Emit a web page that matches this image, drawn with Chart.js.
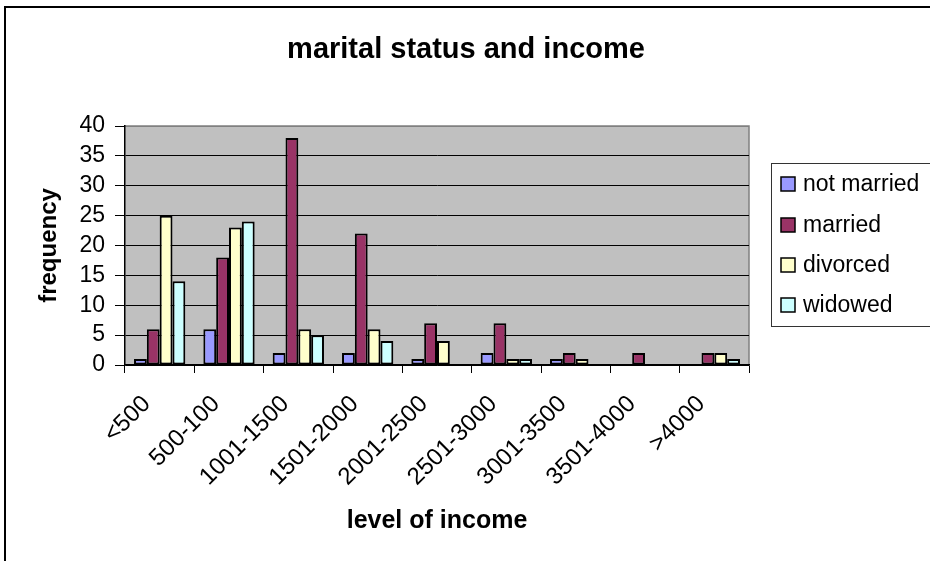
<!DOCTYPE html>
<html>
<head>
<meta charset="utf-8">
<script src="https://cdn.jsdelivr.net/npm/chart.js@4.4.1/dist/chart.umd.min.js"></script>
<style>
  body { margin: 0; background: #fff; }
  #wrap { width: 930px; height: 561px; }
</style>
</head>
<body>
<div id="wrap"><canvas id="incomeChart" width="930" height="561"></canvas></div>
<script>
const categories = ["<500", "500-100", "1001-1500", "1501-2000", "2001-2500", "2501-3000", "3001-3500", "3501-4000", ">4000"];
const notMarried = [1, 6, 2, 2, 1, 2, 1, 0, 0];
const married = [6, 18, 38, 22, 7, 7, 2, 2, 2];
const divorced = [25, 23, 6, 6, 4, 1, 1, 0, 2];
const widowed = [14, 24, 5, 4, 0, 1, 0, 0, 1];
const seriesNames = ["not married", "married", "divorced", "widowed"];
const seriesColors = ["#9999ff", "#993366", "#ffffcc", "#ccffff"];
const yTicks = [0, 5, 10, 15, 20, 25, 30, 35, 40];

const FONT = '"Liberation Sans", Arial, sans-serif';
Chart.defaults.font.family = FONT;
Chart.defaults.color = "#000";

// background, frame, title and legend box drawn around the chart
const decor = {
  id: "decor",
  beforeDraw(chart) {
    const { ctx, chartArea: a } = chart;
    ctx.save();
    ctx.fillStyle = "#fff";
    ctx.fillRect(0, 0, chart.width, chart.height);
    ctx.strokeStyle = "#000";
    ctx.lineWidth = 2;
    ctx.strokeRect(5, 7, 1000, 1000);
    ctx.fillStyle = "#c0c0c0";
    ctx.fillRect(a.left, a.top, a.right - a.left, a.bottom - a.top);
    ctx.strokeStyle = "#808080";
    ctx.lineWidth = 1.5;
    ctx.beginPath();
    ctx.moveTo(a.left, a.top);
    ctx.lineTo(a.right, a.top);
    ctx.lineTo(a.right, a.bottom);
    ctx.stroke();
    ctx.restore();
  },
  afterDraw(chart) {
    const ctx = chart.ctx;
    ctx.save();
    ctx.fillStyle = "#000";
    ctx.font = "bold 29px " + FONT;
    ctx.textAlign = "center";
    ctx.textBaseline = "alphabetic";
    ctx.fillText("marital status and income", 466, 58);

    ctx.strokeStyle = "#333";
    ctx.lineWidth = 1;
    ctx.strokeRect(771.5, 163.5, 200, 163);
    ctx.font = "23px " + FONT;
    ctx.textAlign = "left";
    ctx.textBaseline = "middle";
    const rows = [184, 225, 265, 305];
    chart.data.datasets.forEach((ds, i) => {
      const y = rows[i];
      ctx.fillStyle = ds.backgroundColor;
      ctx.fillRect(781, y - 7, 14, 14);
      ctx.strokeStyle = "#000";
      ctx.lineWidth = 1.5;
      ctx.strokeRect(781, y - 7, 14, 14);
      ctx.fillStyle = "#000";
      ctx.fillText(ds.label, 803, y + 1);
    });
    ctx.restore();
  }
};

const seriesData = [notMarried, married, divorced, widowed];
const datasets = seriesNames.map((name, i) => ({
  label: name,
  data: seriesData[i],
  backgroundColor: seriesColors[i],
  borderColor: "#000",
  borderWidth: 2,
  borderSkipped: false,
  categoryPercentage: 0.74,
  barPercentage: 1.0
}));

const ctx = document.getElementById("incomeChart").getContext("2d");
new Chart(ctx, {
  type: "bar",
  data: { labels: categories, datasets: datasets },
  options: {
    responsive: false,
    animation: false,
    devicePixelRatio: 1,
    layout: { padding: { top: 126, right: 181, bottom: 0, left: 0 } },
    plugins: {
      legend: { display: false },
      title: { display: false },
      tooltip: { enabled: false }
    },
    scales: {
      x: {
        grid: { offset: true, drawOnChartArea: false, tickLength: 8, color: "#000" },
        border: { color: "#000", width: 1.5 },
        ticks: {
          autoSkip: false,
          minRotation: 45,
          maxRotation: 45,
          labelOffset: -13,
          padding: 17,
          font: { size: 24 },
          color: "#000"
        },
        title: {
          display: true,
          text: "level of income",
          font: { size: 25, weight: "bold" },
          padding: { top: 0, bottom: 25 },
          color: "#000"
        },
        afterFit: (scale) => { scale.height = 196; }
      },
      y: {
        min: 0,
        max: 40,
        afterBuildTicks: (scale) => { scale.ticks = yTicks.map(v => ({ value: v })); },
        grid: {
          color: (c) => c.tick && c.tick.value === 40 ? "#808080" : "#000",
          tickColor: "#000",
          tickLength: 10,
          lineWidth: 1
        },
        border: { color: "#000", width: 1.5 },
        ticks: { autoSkip: false, padding: 10, font: { size: 23 }, color: "#000" },
        title: {
          display: true,
          text: "frequency",
          font: { size: 24, weight: "bold" },
          padding: { top: 35, bottom: 0 },
          color: "#000"
        },
        afterFit: (scale) => { scale.width = 125; }
      }
    }
  },
  plugins: [decor]
});
</script>
</body>
</html>
